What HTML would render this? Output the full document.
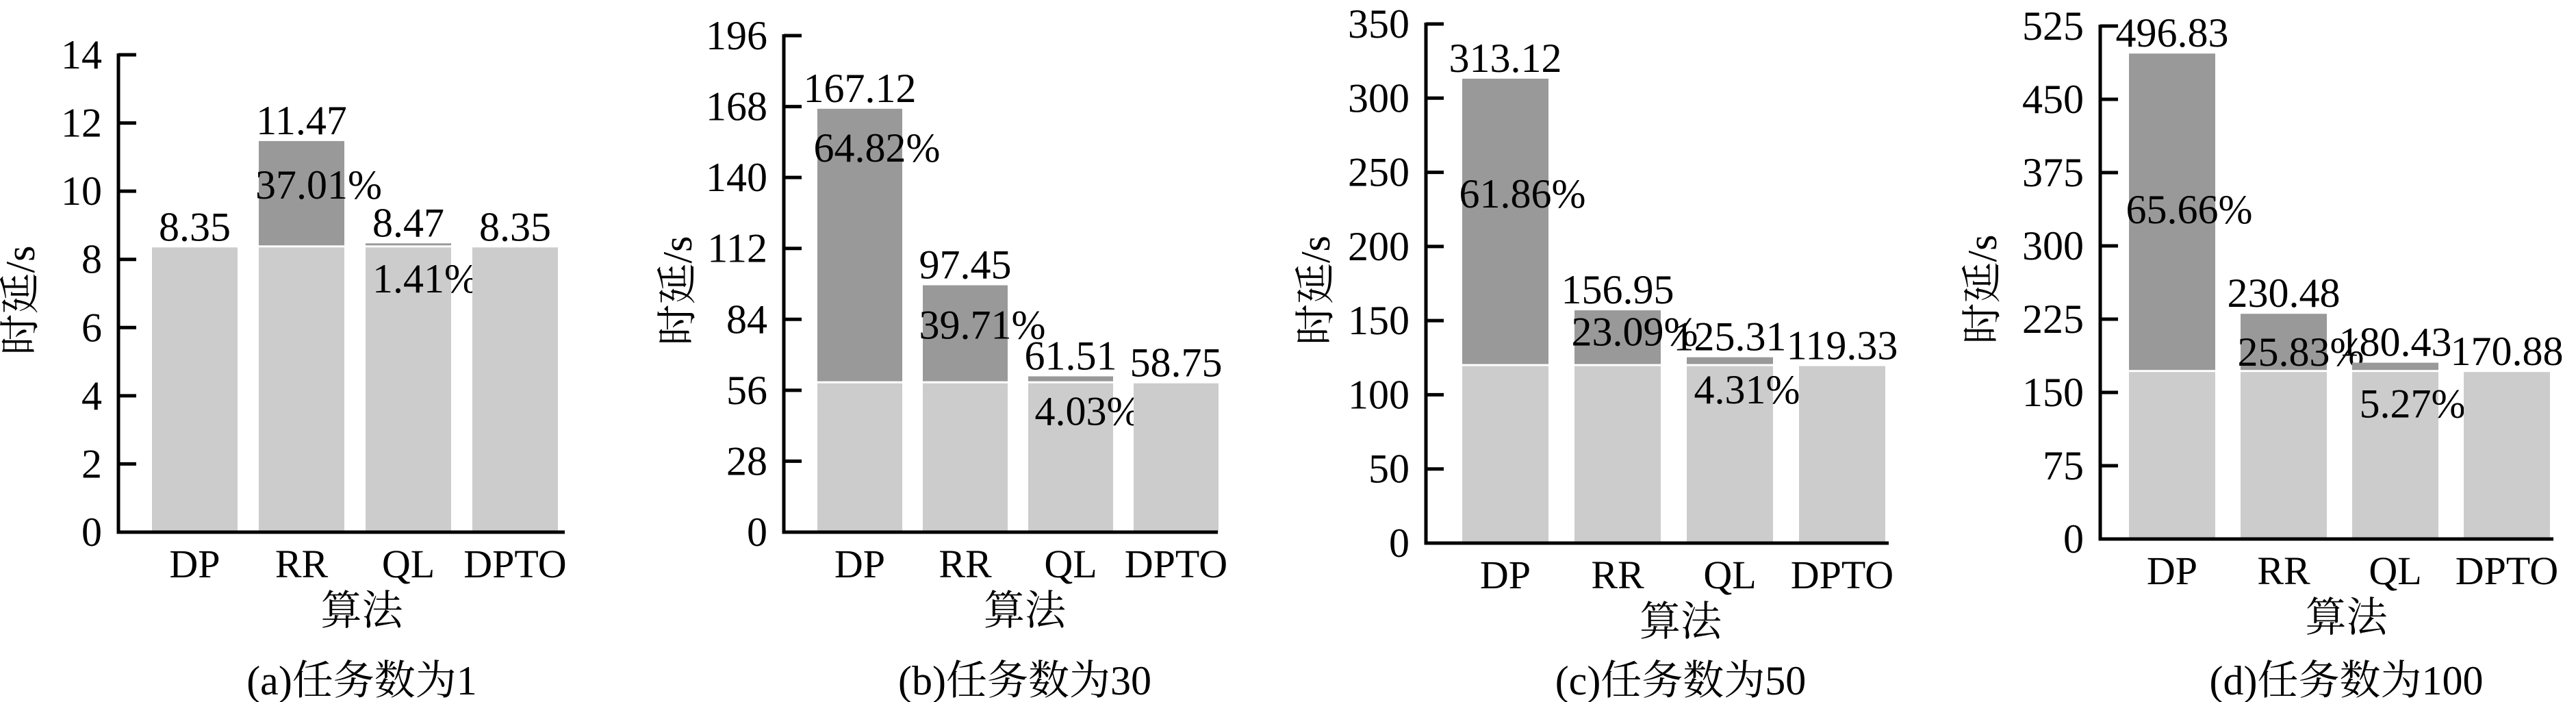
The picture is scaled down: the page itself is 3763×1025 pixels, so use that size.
<!DOCTYPE html>
<html><head><meta charset="utf-8"><style>
html,body{margin:0;padding:0;background:#fff;}
svg{display:block;}
text{font-family:"Liberation Serif","Noto Serif CJK SC","Noto Sans CJK SC",serif;fill:#000;}
</style></head><body>
<svg id="chart" width="3763" height="1025" viewBox="0 0 3763 1025" xmlns="http://www.w3.org/2000/svg"></svg>
<script>
const categories = ["DP","RR","QL","DPTO"];
const captions = ["(a)任务数为1","(b)任务数为30","(c)任务数为50","(d)任务数为100"];
const yMaxA = 14, yMaxB = 196, yMaxC = 350, yMaxD = 525;
const ticksA = [0,2,4,6,8,10,12,14];
const ticksB = [0,28,56,84,112,140,168,196];
const ticksC = [0,50,100,150,200,250,300,350];
const ticksD = [0,75,150,225,300,375,450,525];
const baseA = [8.35,8.35,8.35,8.35];
const baseB = [58.75,58.75,58.75,58.75];
const baseC = [119.33,119.33,119.33,119.33];
const baseD = [170.88,170.88,170.88,170.88];
const totalA = [8.35,11.47,8.47,8.35];
const totalB = [167.12,97.45,61.51,58.75];
const totalC = [313.12,156.95,125.31,119.33];
const totalD = [496.83,230.48,180.43,170.88];
const pctA = ["","37.01%","1.41%",""];
const pctB = ["64.82%","39.71%","4.03%",""];
const pctC = ["61.86%","23.09%","4.31%",""];
const pctD = ["65.66%","25.83%","5.27%",""];
const pctPosA = [0,10.2,7.45,0];
const pctPosB = [152,82,48,0];
const pctPosC = [236,143,104,0];
const pctPosD = [338,192,139,0];

const panels = [
 {id:"a",yMax:yMaxA,ticks:ticksA,base:baseA,total:totalA,pct:pctA,pctPos:pctPosA,axisX:173,zeroY:777,topY:80,bar0:222,pitch:156,barW:125,axisEnd:825,ylx:30},
 {id:"b",yMax:yMaxB,ticks:ticksB,base:baseB,total:totalB,pct:pctB,pctPos:pctPosB,axisX:1145,zeroY:777,topY:52,bar0:1194,pitch:154,barW:124,axisEnd:1779,ylx:990},
 {id:"c",yMax:yMaxC,ticks:ticksC,base:baseC,total:totalC,pct:pctC,pctPos:pctPosC,axisX:2083,zeroY:793,topY:35,bar0:2136,pitch:164,barW:126,axisEnd:2759,ylx:1922},
 {id:"d",yMax:yMaxD,ticks:ticksD,base:baseD,total:totalD,pct:pctD,pctPos:pctPosD,axisX:3068,zeroY:787,topY:38,bar0:3110,pitch:163,barW:126,axisEnd:3730,ylx:2896}
];
const NS="http://www.w3.org/2000/svg";
const svg=document.getElementById("chart");
function mk(tag,attrs,parent){const e=document.createElementNS(NS,tag);for(const k in attrs)e.setAttribute(k,attrs[k]);parent.appendChild(e);return e;}

panels.forEach((p,pi)=>{
  const g=mk("g",{},svg);
  
  
  const y=v=>p.zeroY-(v/p.yMax)*(p.zeroY-p.topY);
  const xb=i=>p.bar0+i*p.pitch;
  // bars
  categories.forEach((c,i)=>{
    const b=mk("rect",{x:xb(i),y:y(p.base[i]),width:p.barW,height:p.zeroY-y(p.base[i]),fill:"#cccccc"},g);
    
    
    if(p.total[i]>p.base[i]){
      const top=y(p.total[i]), bot=y(p.base[i])-3;
      const d=mk("rect",{x:xb(i),y:top,width:p.barW,height:Math.max(2,bot-top),fill:"#999999"},g);
      
      
    }
    const vl=mk("text",{x:xb(i)+p.barW/2,y:y(p.total[i])-10,"font-size":60,"text-anchor":"middle"},g);
    vl.textContent=p.total[i].toFixed(2);
    
    
    if(p.pct[i]){
      const pl=mk("text",{x:xb(i)+p.barW/2+25,y:y(p.pctPos[i])+21,"font-size":60,"text-anchor":"middle"},g);
      pl.textContent=p.pct[i];
      
      
    }
    const xl=mk("text",{x:xb(i)+p.barW/2,y:p.zeroY+66,"font-size":58,"text-anchor":"middle"},g);
    xl.textContent=c;
    
    
  });
  // axes
  const ya=mk("line",{x1:p.axisX,y1:p.topY-2,x2:p.axisX,y2:p.zeroY+2,stroke:"#000","stroke-width":5},g);
  
  
  const xa=mk("line",{x1:p.axisX-2.5,y1:p.zeroY,x2:p.axisEnd,y2:p.zeroY,stroke:"#000","stroke-width":5},g);
  
  
  p.ticks.forEach(t=>{
    const tl=mk("line",{x1:p.axisX,y1:y(t),x2:p.axisX+26,y2:y(t),stroke:"#000","stroke-width":5},g);
    
    
    const tt=mk("text",{x:p.axisX-24,y:y(t)+20,"font-size":60,"text-anchor":"end"},g);
    tt.textContent=t;
    
    
  });
  const mid=(p.bar0+xb(3)+p.barW)/2+10;
  const yt=mk("text",{x:0,y:0,"font-size":60,"text-anchor":"middle",transform:"translate("+(p.ylx+20)+","+((p.topY+p.zeroY)/2+10)+") rotate(-90)"},g);
  yt.textContent="时延/s";
  
  
  const xt=mk("text",{x:mid,y:p.zeroY+135,"font-size":60,"text-anchor":"middle"},g);
  xt.textContent="算法";
  
  
  const cap=mk("text",{x:mid,y:1014,"font-size":60,"text-anchor":"middle"},g);
  cap.textContent=captions[pi];
  
  
});
</script>
</body></html>
